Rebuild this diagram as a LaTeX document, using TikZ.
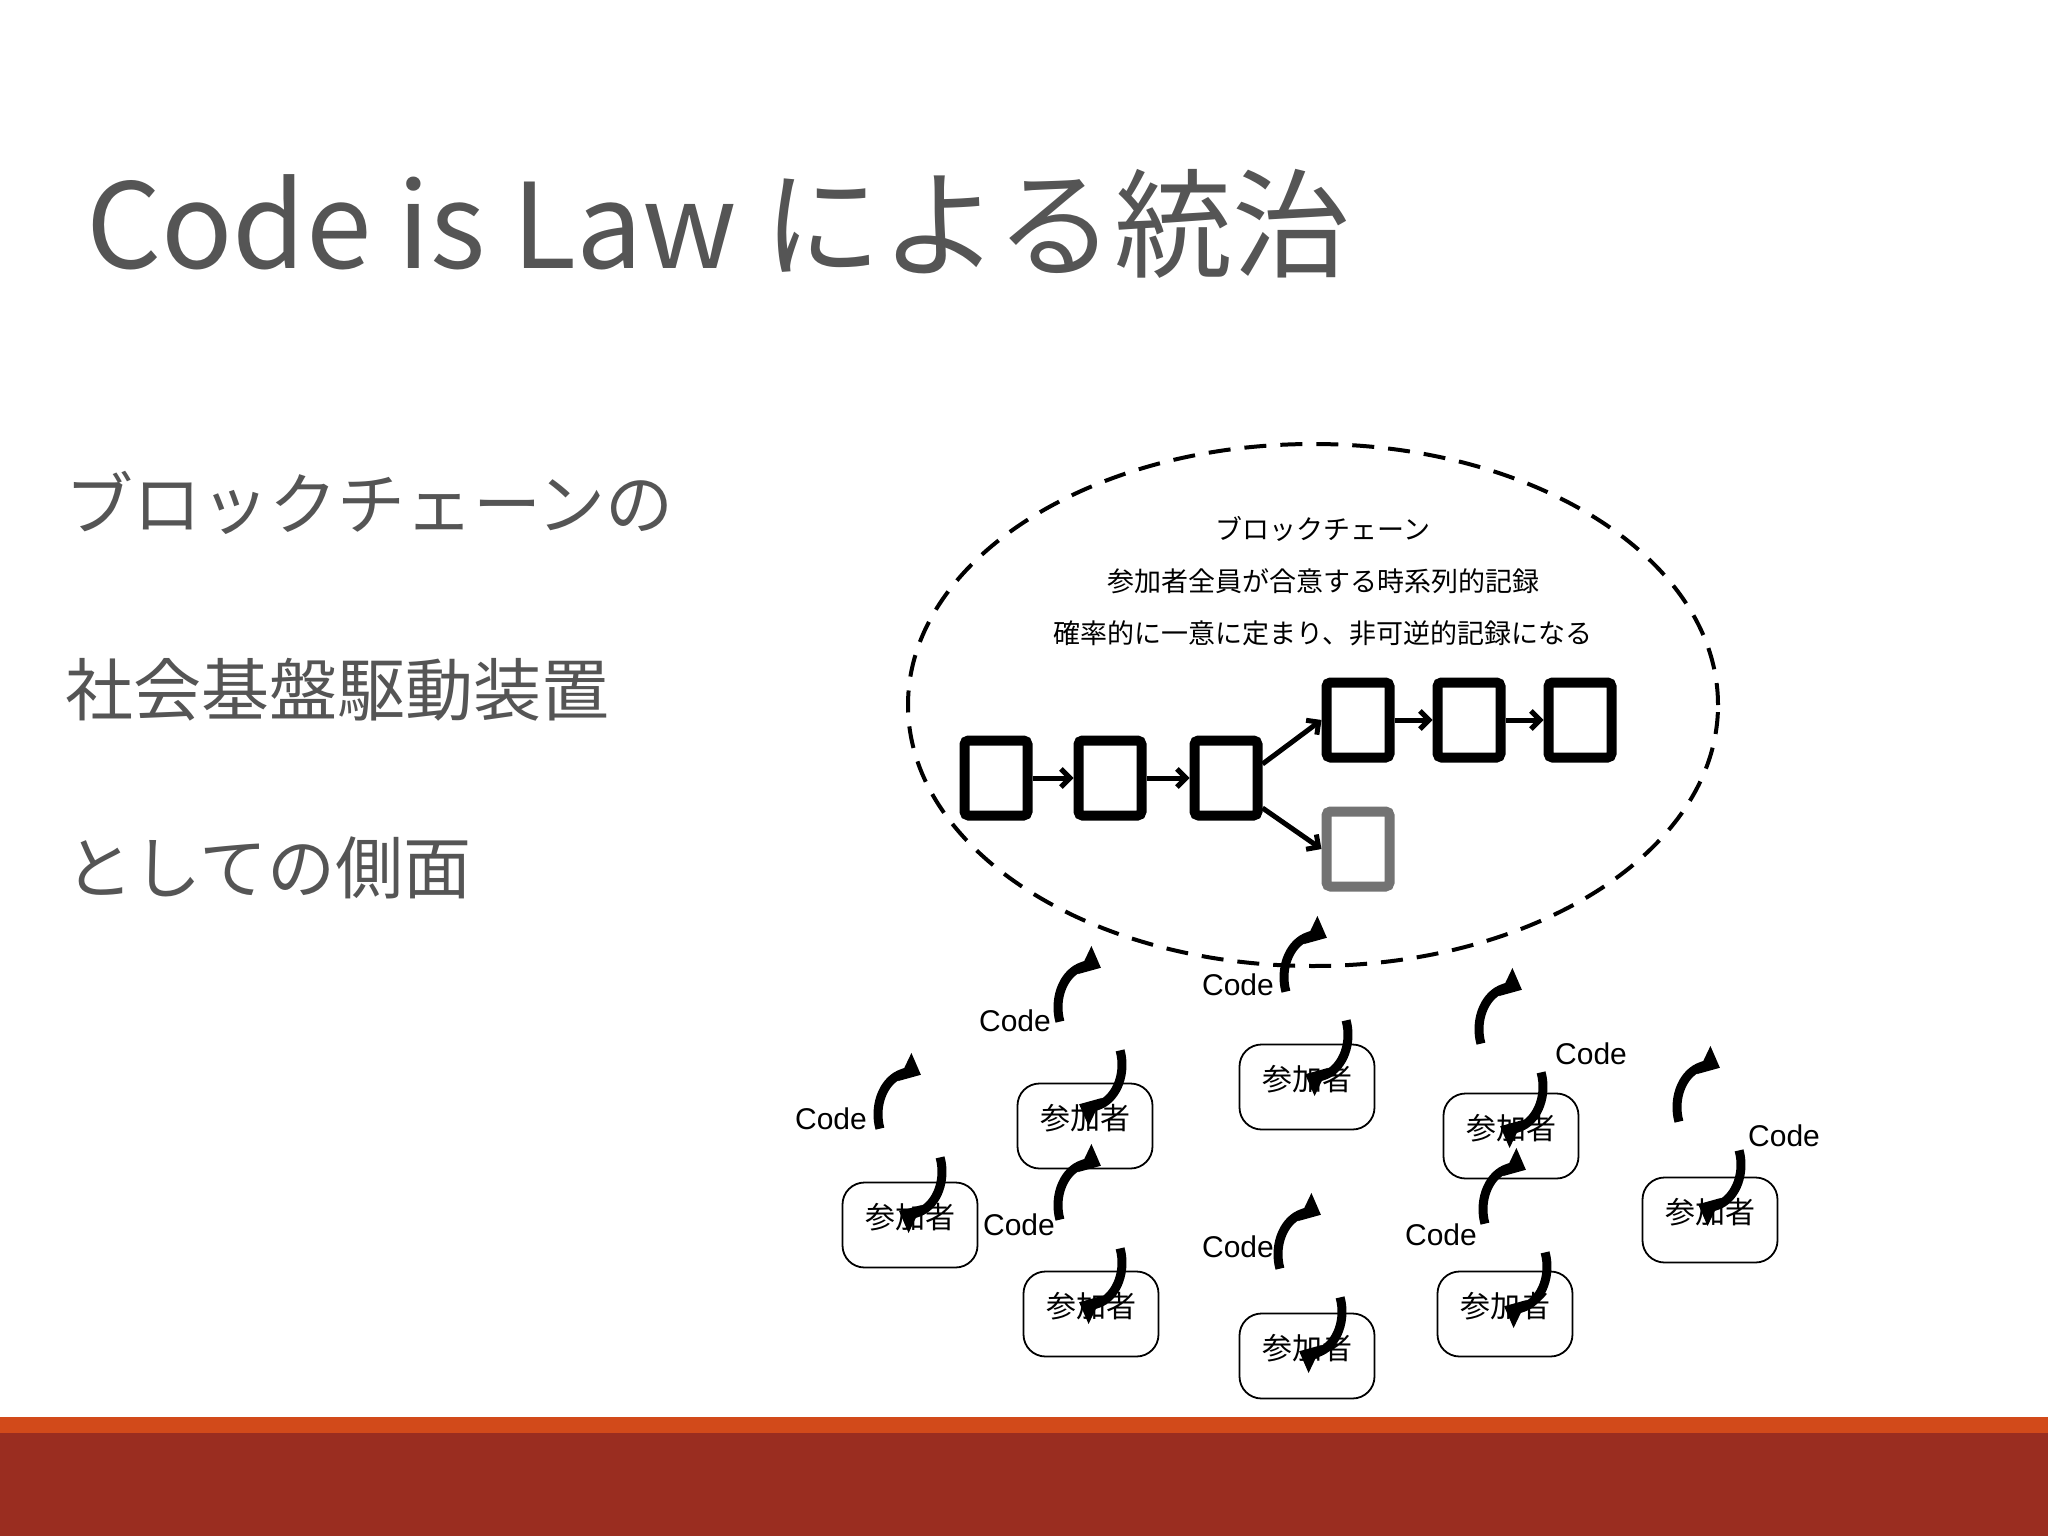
\documentclass[tikz,border=0pt]{standalone}
\usepackage{fontspec}
\setmainfont{Noto Sans CJK JP}
\newfontfamily\latinf{Liberation Sans}
\usetikzlibrary{arrows.meta}
\definecolor{txtgray}{RGB}{85,85,85}
\definecolor{barorange}{RGB}{210,74,26}
\definecolor{barred}{RGB}{154,45,32}
\tikzset{
 blk/.style={draw=black,line width=10pt,rounded corners=4pt,minimum width=63pt,minimum height=75pt,inner sep=0pt},
 blkgray/.style={blk,draw=black!55},
 chainarrow/.style={line width=5pt,-{Straight Barb[length=9pt,width=18pt,line width=5pt]}},
 part/.style={draw,line width=1.8pt,rounded corners=22pt,minimum width=135pt,minimum height=85pt,inner sep=0pt},
 plabel/.style={font=\fontsize{30}{34}\selectfont},
 codelabel/.style={font=\latinf\fontsize{30}{34}\selectfont},
 cyc/.style={line width=9pt,-{Triangle[length=18pt,width=30pt]}},
}
\newcommand{\cycicon}[2]{%
 \coordinate (#2) at #1;
 \draw[cyc] ([shift={(-20:32pt and 42pt)}]#2) arc[start angle=-20,end angle=110,x radius=32pt,y radius=-42pt];
 \draw[cyc] ([shift={(160:32pt and 42pt)}]#2) arc[start angle=160,end angle=290,x radius=32pt,y radius=-42pt];
}
\begin{document}
\begin{tikzpicture}[x=1pt,y=-1pt]
\useasboundingbox (0,0) rectangle (2048,1536);
\fill[white] (0,0) rectangle (2048,1536);
\fill[barorange] (0,1417) rectangle (2048,1434);
\fill[barred] (0,1433) rectangle (2048,1536);
\node[anchor=base west,text=txtgray,font=\fontsize{118}{130}\selectfont,inner sep=0] (title) at (86,268) {Code is Law による統治};
\node[anchor=west,text=txtgray,font=\fontsize{68}{80}\selectfont,inner sep=0] (l1) at (65,503) {ブロックチェーンの};
\node[anchor=west,text=txtgray,font=\fontsize{68}{80}\selectfont,inner sep=0] (l2) at (65,690) {社会基盤駆動装置};
\node[anchor=west,text=txtgray,font=\fontsize{68}{80}\selectfont,inner sep=0] (l3) at (65,868) {としての側面};
\draw[line width=4pt,dash pattern=on 22pt off 14pt] (1313,705) ellipse [x radius=405pt,y radius=261pt];
\node[font=\fontsize{27}{30}\selectfont] (t1) at (1323,529) {ブロックチェーン};
\node[font=\fontsize{27}{30}\selectfont] (t2) at (1323,581) {参加者全員が合意する時系列的記録};
\node[font=\fontsize{27}{30}\selectfont] (t3) at (1323,633) {確率的に一意に定まり、非可逆的記録になる};
\node[blk] (b1) at (996,778) {};
\node[blk] (b2) at (1110,778) {};
\node[blk] (b3) at (1226,778) {};
\node[blk] (b4) at (1358,720) {};
\node[blk] (b5) at (1469,720) {};
\node[blk] (b6) at (1580,720) {};
\node[blkgray] (b7) at (1358,849) {};
\draw[chainarrow] (b1) -- (b2);
\draw[chainarrow] (b2) -- (b3);
\draw[chainarrow] (b3.east) ++(0,-14) coordinate (s1) (s1) -- (b4.west);
\draw[chainarrow] (b3.east) ++(0,30) coordinate (s2) (s2) -- (b7.west);
\draw[chainarrow] (b4) -- (b5);
\draw[chainarrow] (b5) -- (b6);
% participants
\foreach \n/\px/\py/\ix/\iy/\cx/\cy in {
 1/910/1225/910/1143/831/1119,
 2/1085/1126/1090/1036/1015/1021,
 3/1307/1087/1316/1006/1238/985,
 4/1511/1136/1511/1058/1591/1054,
 5/1710/1220/1709/1136/1784/1136,
 6/1091/1314/1090/1234/1019/1225,
 7/1307/1356/1310/1283/1238/1247,
 8/1505/1314/1515/1238/1441/1235}{
 \node[part] (p\n) at (\px,\py) {};
 \node[plabel] (pl\n) at (\px,\py-8) {参加者};
 \cycicon{(\ix,\iy)}{c\n}
 \node[codelabel] (cl\n) at (\cx,\cy) {Code};
}
\end{tikzpicture}
\end{document}
